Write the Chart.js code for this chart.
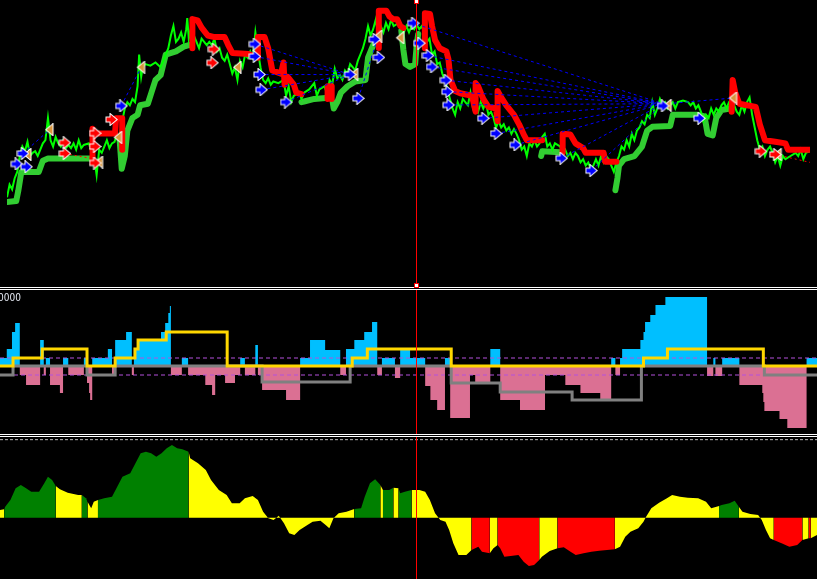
<!DOCTYPE html>
<html>
<head>
<meta charset="utf-8">
<script src="https://cdn.jsdelivr.net/npm/chart.js@4.4.1/dist/chart.umd.min.js"></script>
<style>
  html, body { margin: 0; padding: 0; background: #000; overflow: hidden; }
  #wrap { position: relative; width: 817px; height: 579px; background: #000; }
  .pane { position: absolute; left: 0; width: 817px; }
  #paneTop { top: 0; height: 287px; }
  #paneMid { top: 290px; height: 144px; }
  #paneBot { top: 437px; height: 142px; }
  .sep { position: absolute; left: 0; width: 817px; height: 1px; background: #fff; }
  .mark { position: absolute; width: 3px; height: 3px; background: #fff; border: 1px solid #f00; }
  #lbl { position: absolute; left: -2px; top: 292px; font: 10px "Liberation Sans Narrow", "DejaVu Sans Condensed", sans-serif; color: #e4e8f2; letter-spacing: 0; }
</style>
</head>
<body>
<div id="wrap">
  <div class="pane" id="paneTop"><canvas id="cTop"></canvas></div>
  <div class="pane" id="paneMid"><canvas id="cMid"></canvas></div>
  <div class="pane" id="paneBot"><canvas id="cBot"></canvas></div>
  <div class="sep" style="top:287px"></div>
  <div class="sep" style="top:289px"></div>
  <div class="sep" style="top:434px"></div>
  <div class="sep" style="top:436px"></div>
  <div class="mark" style="left:414px;top:-1px"></div>
  <div class="mark" style="left:414px;top:283px"></div>
  <div id="lbl">0000</div>
</div>
<script>
// ---- shared time axis (bar index) ----
const barCount = 1568;
const cursorBar = 798;

// ---- price window (points) ----
const pricePath = [
  [0,400],[5,440],[10,425],[15,460],[20,480],[25,530],[30,560],[35,545],[40,575],[45,530],[50,540],[55,545],[60,530],[65,550],[70,570],[75,580],[80,650],[85,580],[90,560],[95,590],
  [100,570],[105,560],[110,580],[115,555],[120,565],[125,555],[130,570],[135,550],[140,580],[145,555],[150,565],[160,570],[165,540],[170,530],[175,470],[180,550],[185,540],[190,560],[195,580],
  [200,555],[205,570],[210,575],[215,600],[220,590],[225,640],[230,680],[235,700],[240,690],[245,710],[250,700],[255,750],[258,850],[262,780],[265,810],[270,820],[280,815],[290,825],
  [300,810],[305,830],[310,850],[315,870],[320,910],[325,940],[330,890],[335,900],[340,920],[345,890],[350,930],[352,965],[355,900],[360,940],[365,910],[370,890],[375,870],[380,900],[385,890],[390,880],[395,890],
  [400,880],[405,900],[410,860],[415,870],[420,840],[425,830],[430,850],[435,820],[440,790],[445,810],[450,770],[455,830],[460,810],[465,850],[470,840],[475,860],[480,840],[485,920],[490,860],[495,810],
  [500,770],[505,760],[510,775],[515,755],[520,765],[530,760],[540,770],[545,720],[550,750],[555,700],[560,720],[570,730],[575,710],[580,730],[590,740],
  [600,760],[605,720],[610,740],[620,750],[625,725],[630,770],[635,755],[640,805],[645,775],[650,785],[655,770],[660,800],[665,790],[670,820],[675,810],[680,800],[685,830],[690,850],[695,870],
  [700,900],[705,940],[710,910],[715,930],[720,960],[725,910],[730,940],[735,920],[740,950],[745,930],[750,960],[755,940],[765,950],[770,930],[775,920],[780,940],[785,920],[790,940],[795,930],
  [800,945],[805,930],[810,940],[815,915],[820,890],[825,900],[830,850],[835,860],[840,820],[845,825],[850,790],[855,770],[860,740],[865,710],[870,680],[875,660],[880,700],[885,680],[890,710],[895,700],
  [900,690],[905,730],[910,680],[915,690],[920,670],[925,700],[930,680],[935,700],[940,660],[945,670],[950,650],[955,620],[960,640],[965,620],[970,630],[975,610],[980,620],[985,600],[990,615],[995,600],
  [1000,580],[1005,550],[1010,560],[1015,530],[1020,570],[1025,560],[1030,580],[1035,560],[1040,570],[1045,590],[1050,600],[1055,560],[1060,570],[1065,550],[1070,570],[1080,560],[1085,540],[1090,550],[1095,530],
  [1100,540],[1105,520],[1110,540],[1115,530],[1120,510],[1125,520],[1130,500],[1135,510],[1140,490],[1145,500],[1150,520],[1155,500],[1160,530],[1165,510],[1170,530],[1175,520],[1180,500],[1185,480],[1190,510],[1195,530],
  [1200,560],[1205,550],[1210,580],[1215,560],[1220,600],[1225,580],[1230,610],[1235,620],[1240,640],[1245,630],[1250,660],[1255,650],[1260,700],[1265,660],[1270,680],[1275,710],[1280,690],[1285,700],[1290,680],[1295,690],
  [1300,700],[1305,680],[1310,700],[1320,705],[1330,700],[1335,690],[1340,700],[1345,680],[1350,690],[1355,670],[1360,640],[1365,660],[1370,650],[1375,680],[1380,660],[1385,680],[1390,670],[1395,690],
  [1400,700],[1405,680],[1410,700],[1415,710],[1420,690],[1425,670],[1430,660],[1435,690],[1440,670],[1445,700],[1450,715],[1455,660],[1460,620],[1465,580],[1470,550],[1475,560],[1480,530],[1485,550],[1490,560],[1495,540],
  [1500,510],[1505,530],[1510,500],[1515,530],[1520,520],[1530,530],[1540,540],[1545,530],[1550,550],[1555,520],[1560,540],[1568,545]
];

// trailing stop (support = green, resistance = red), one list per run
const supportRuns = [
  [[0,385],[18,388],[22,420],[28,480],[62,480],[70,515],[80,522],[165,522]],
  [[220,580],[224,490],[230,530],[235,610],[245,650],[255,660],[260,690],[275,695],[282,730],[290,770],[300,785],[310,850],[330,860],[345,875],[360,882]],
  [[575,700],[580,702],[600,710],[622,713]],
  [[636,700],[638,680],[645,700],[652,730],[665,750],[680,765],[700,770],[705,840],[715,880],[722,890]],
  [[770,925],[774,865],[778,820],[787,811],[797,820],[800,880],[803,915]],
  [[1043,530],[1045,545],[1080,542]],
  [[1188,422],[1192,460],[1195,500],[1205,520],[1225,530],[1240,560],[1250,610],[1260,622],[1295,625],[1300,660],[1350,660],[1362,655],[1368,600],[1378,595],[1385,650],[1395,675],[1412,680]]
];
const resistRuns = [
  [[167,520],[167,616],[173,601],[211,601],[213,649],[225,649],[225,550]],
  [[362,870],[362,962],[372,958],[380,935],[392,910],[405,905],[425,905],[432,880],[440,855],[472,852],[490,840],[490,905],[503,905],[510,870],[518,800],[535,790],[540,825],[542,755],[548,780],[560,755],[565,730],[575,725]],
  [[626,710],[626,750],[634,750],[634,710]],
  [[726,871],[726,988],[741,988],[747,970],[755,961],[762,961],[768,940],[774,934]],
  [[816,870],[816,980],[826,978],[830,940],[836,895],[845,870],[858,860],[862,835],[866,770],[875,735],[885,728],[908,720],[915,670],[915,760],[920,750],[930,710],[940,685],[955,680],[958,640],[958,735],[965,715],[975,690],[990,660],[1000,630],[1010,595],[1015,580],[1045,580]],
  [[1085,540],[1085,600],[1100,598],[1110,570],[1125,555],[1130,540],[1165,540],[1168,512],[1190,512]],
  [[1415,670],[1417,770],[1422,730],[1430,695],[1445,690],[1462,685],[1470,630],[1480,580],[1500,575],[1520,570],[1525,550],[1568,550]]
];

// signal arrows
const buyArrows = [[31,538],[19,505],[38,496],[223,688],[484,883],[484,844],[493,787],[497,739],[545,700],[670,787],[686,712],[718,898],[726,841],[793,949],[805,886],[822,847],[830,811],[857,769],[860,733],[862,691],[930,649],[955,601],[993,565],[1083,523],[1141,484],[1281,688],[1352,649]];
const sellArrows = [[113,572],[113,538],[172,602],[172,560],[172,508],[204,645],[404,867],[401,824],[1472,545],[1500,535]];
const exitMarks = [[40,535],[83,613],[180,511],[217,589],[262,810],[450,810],[678,788],[725,908],[768,903],[1290,690],[1418,713],[1505,535]];

// dotted links between signals
const blueLinks = [
  [31,538,83,613],[223,688,262,810],
  [484,883,670,787],[484,844,670,787],[493,787,670,787],[497,739,670,787],[545,700,670,787],
  [686,712,725,908],
  [800,945,1281,695],[822,847,1281,695],[830,811,1281,695],[857,769,1281,695],[860,733,1281,695],[862,691,1281,695],
  [930,649,1281,695],[955,601,1281,695],[993,565,1281,695],[1083,523,1281,695],[1141,484,1281,695],
  [1290,695,1418,713]
];
const redLinks = [[113,538,172,520],[1500,535,1568,510]];

// ---- middle window: histogram + two step lines ----
const histBars = [0,13,23,29,38,50,77,84,88,96,115,121,131,161,167,171,173,177,207,215,221,242,253,257,265,309,317,323,326,328,349,361,394,407,413,432,451,461,470,490,495,503,549,576,595,624,653,664,680,699,714,724,733,758,768,787,816,826,839,854,864,902,912,941,960,998,1046,1085,1114,1152,1173,1181,1190,1194,1229,1235,1238,1248,1258,1277,1357,1369,1373,1386,1419,1463,1465,1467,1496,1511,1548,1568];
const histValues = [8,17,34,43,-9,-19,26,-9,8,-19,-27,8,-9,8,-17,-27,-34,8,17,-9,26,34,-9,18,26,34,43,53,60,-9,8,-9,-19,-29,-9,-17,-9,8,-9,21,-9,-24,-34,8,26,16,-9,17,26,34,44,-9,8,-12,17,8,-20,-34,-44,8,-52,-9,-17,17,-34,-44,-9,-19,-27,-35,8,-9,8,17,26,34,44,51,61,69,-10,8,-10,8,-19,-27,-36,-45,-53,-62,8,8];
const fastBars = [0,25,81,167,221,259,265,319,436,676,705,866,1235,1281,1465,1568];
const fastValues = [0,8,17,0,8,17,26,34,0,8,17,0,8,17,0,0];
const slowBars = [0,25,167,221,503,672,866,960,1098,1231,1467,1568];
const slowValues = [-9,0,-9,0,-16,0,-17,-26,-34,0,-9,-9];
const midLevels = [8, -9];

// ---- bottom window: oscillator, state G/Y/R ----
const oscBars = [0,8,10,20,30,40,50,60,75,85,92,100,107,115,130,150,157,165,168,175,180,188,200,215,225,235,250,260,270,280,290,300,310,320,330,340,350,362,365,380,395,405,420,435,445,460,470,485,495,505,515,525,535,545,555,565,575,590,600,615,625,632,640,650,665,680,693,700,710,720,730,735,747,755,765,768,777,790,805,816,825,835,845,855,862,870,880,895,905,918,925,940,947,955,960,968,980,995,1005,1015,1025,1035,1040,1055,1070,1082,1095,1105,1120,1135,1150,1165,1180,1190,1200,1210,1225,1235,1240,1250,1265,1280,1290,1305,1320,1340,1355,1365,1380,1385,1400,1410,1418,1420,1425,1440,1455,1462,1470,1478,1485,1500,1515,1530,1540,1552,1556,1568];
const oscValues = [23,25,33,53,88,98,88,78,78,103,123,113,95,85,75,68,68,58,48,28,48,53,58,63,93,123,133,163,193,198,193,183,193,208,218,208,205,198,178,163,143,113,83,68,43,43,58,65,53,18,-2,-7,6,-17,-47,-52,-37,-22,-12,-9,-22,-32,-2,13,18,26,28,63,103,115,98,83,83,90,88,73,78,83,83,78,53,13,-7,-12,-37,-77,-112,-112,-97,-87,-102,-107,-92,-82,-92,-117,-115,-112,-132,-145,-142,-127,-117,-100,-92,-89,-102,-112,-107,-102,-99,-97,-95,-87,-57,-42,-32,-12,3,28,45,58,68,63,60,58,48,28,35,38,43,51,33,28,18,11,8,-7,-37,-62,-67,-77,-87,-82,-67,-62,-62,-52];
const oscState = 'YGGGGGGGGGGGYYYYGGYYYGGGGGGGGGGGGGGGGYYYYYYYYYYYYYYYYYYYYYYYYYYYYGGGGGYGGYGGGYYYYYYYYYYYRRRYYRRRRRRRRYYYRRRRRRRRYYYYYYYYYYYYYYYYGGGGYYYYYYYYRRRRYRYY';
const oscLevel = 234;

const stateColors = { G: '#008000', Y: '#ffff00', R: '#ff0000' };

// ---- helpers ----
function xy(pairs) { return pairs.map(([x, y]) => ({ x, y })); }
function runs(list) {
  const out = [];
  list.forEach(r => { out.push(...xy(r)); out.push({ x: r[r.length - 1][0], y: null }); });
  return out;
}
function links(list) {
  const out = [];
  list.forEach(([x1, y1, x2, y2]) => out.push({ x: x1, y: y1 }, { x: x2, y: y2 }, { x: x2, y: null }));
  return out;
}
function zip(xs, ys) { return xs.map((x, i) => ({ x, y: ys[i] })); }
function flat(v) { return [{ x: 0, y: v }, { x: barCount, y: v }]; }

function markImg(fill, kind) {
  const c = document.createElement('canvas');
  c.width = 13; c.height = 13;
  const g = c.getContext('2d');
  g.beginPath();
  if (kind === 'right') {
    g.moveTo(1.5, 4.5); g.lineTo(5.5, 4.5); g.lineTo(5.5, 1.5); g.lineTo(11.5, 6.5);
    g.lineTo(5.5, 11.5); g.lineTo(5.5, 8.5); g.lineTo(1.5, 8.5); g.closePath();
  } else {
    g.moveTo(3.5, 6.5); g.lineTo(9.5, 1.5); g.lineTo(9.5, 11.5); g.closePath();
  }
  g.strokeStyle = '#ffffff'; g.lineWidth = 2; g.stroke();
  g.fillStyle = fill; g.fill();
  return c;
}

const cursorLine = {
  id: 'cursorLine',
  afterDraw(chart) {
    const x = Math.round(chart.scales.x.getPixelForValue(cursorBar));
    const ctx = chart.ctx;
    ctx.save();
    ctx.fillStyle = '#ff0000';
    ctx.fillRect(x, 0, 1, chart.height);
    ctx.restore();
  }
};

function baseOptions(ymin, ymax) {
  return {
    responsive: true, maintainAspectRatio: false, animation: false, events: [],
    layout: { padding: 0 },
    plugins: { legend: { display: false }, tooltip: { enabled: false } },
    scales: {
      x: { type: 'linear', min: 0, max: barCount, display: false },
      y: { min: ymin, max: ymax, display: false }
    },
    elements: { point: { radius: 0 }, line: { tension: 0 } }
  };
}

// ---- top: price + trailing stops + signals ----
new Chart(document.getElementById('cTop'), {
  type: 'line',
  data: {
    datasets: [
      { label: 'buy', data: xy(buyArrows), showLine: false, pointRadius: 6, pointStyle: markImg('#0000ff', 'right'), order: 0 },
      { label: 'sell', data: xy(sellArrows), showLine: false, pointRadius: 6, pointStyle: markImg('#ff0000', 'right'), order: 0 },
      { label: 'exit', data: xy(exitMarks), showLine: false, pointRadius: 6, pointStyle: markImg('#d8963c', 'left'), order: 0 },
      { label: 'links', data: links(blueLinks), borderColor: '#0000ff', borderWidth: 1, borderDash: [3, 3], spanGaps: false, order: 1 },
      { label: 'links2', data: links(redLinks), borderColor: '#ff0000', borderWidth: 1, borderDash: [2, 3], spanGaps: false, order: 1 },
      { label: 'resistance', data: runs(resistRuns), borderColor: '#ff0000', borderWidth: 6, borderJoinStyle: 'round', borderCapStyle: 'round', spanGaps: false, order: 2 },
      { label: 'price', data: xy(pricePath), borderColor: '#00ff00', borderWidth: 2, order: 3 },
      { label: 'support', data: runs(supportRuns), borderColor: '#32cd32', borderWidth: 6, borderJoinStyle: 'round', borderCapStyle: 'round', spanGaps: false, order: 4 }
    ]
  },
  options: baseOptions(139, 1000),
  plugins: [cursorLine]
});

// ---- middle: histogram with step lines ----
new Chart(document.getElementById('cMid'), {
  type: 'line',
  data: {
    datasets: [
      { label: 'fast', data: zip(fastBars, fastValues), stepped: true, borderColor: '#ffd700', borderWidth: 3, order: 0 },
      { label: 'slow', data: zip(slowBars, slowValues), stepped: true, borderColor: '#808080', borderWidth: 3, order: 1 },
      { label: 'zeroY', data: flat(0), borderColor: '#ffd700', borderWidth: 1, borderDash: [4, 4], order: 2 },
      { label: 'zeroP', data: flat(0), borderColor: '#b450dc', borderWidth: 1, borderDash: [4, 4], borderDashOffset: 4, order: 2 },
      { label: 'hi', data: flat(midLevels[0]), borderColor: '#b450dc', borderWidth: 1, borderDash: [4, 3], order: 2 },
      { label: 'lo', data: flat(midLevels[1]), borderColor: '#b450dc', borderWidth: 1, borderDash: [4, 3], order: 2 },
      { label: 'hist', data: zip(histBars, histValues), stepped: true, borderWidth: 0, borderColor: 'rgba(0,0,0,0)',
        fill: { target: 'origin', above: '#00bfff', below: '#db7093' }, order: 3 }
    ]
  },
  options: baseOptions(-68, 76),
  plugins: [cursorLine]
});

// ---- bottom: coloured oscillator ----
new Chart(document.getElementById('cBot'), {
  type: 'line',
  data: {
    datasets: [
      { label: 'level', data: flat(oscLevel), borderColor: '#bbbbbb', borderWidth: 1, borderDash: [3, 2], order: 0 },
      { label: 'osc', data: zip(oscBars, oscValues), borderWidth: 0, borderColor: 'rgba(0,0,0,0)',
        backgroundColor: '#ffff00', fill: 'origin',
        segment: { backgroundColor: c => stateColors[oscState[c.p0DataIndex]] }, order: 1 }
    ]
  },
  options: baseOptions(-184, 242),
  plugins: [cursorLine]
});
</script>
</body>
</html>
